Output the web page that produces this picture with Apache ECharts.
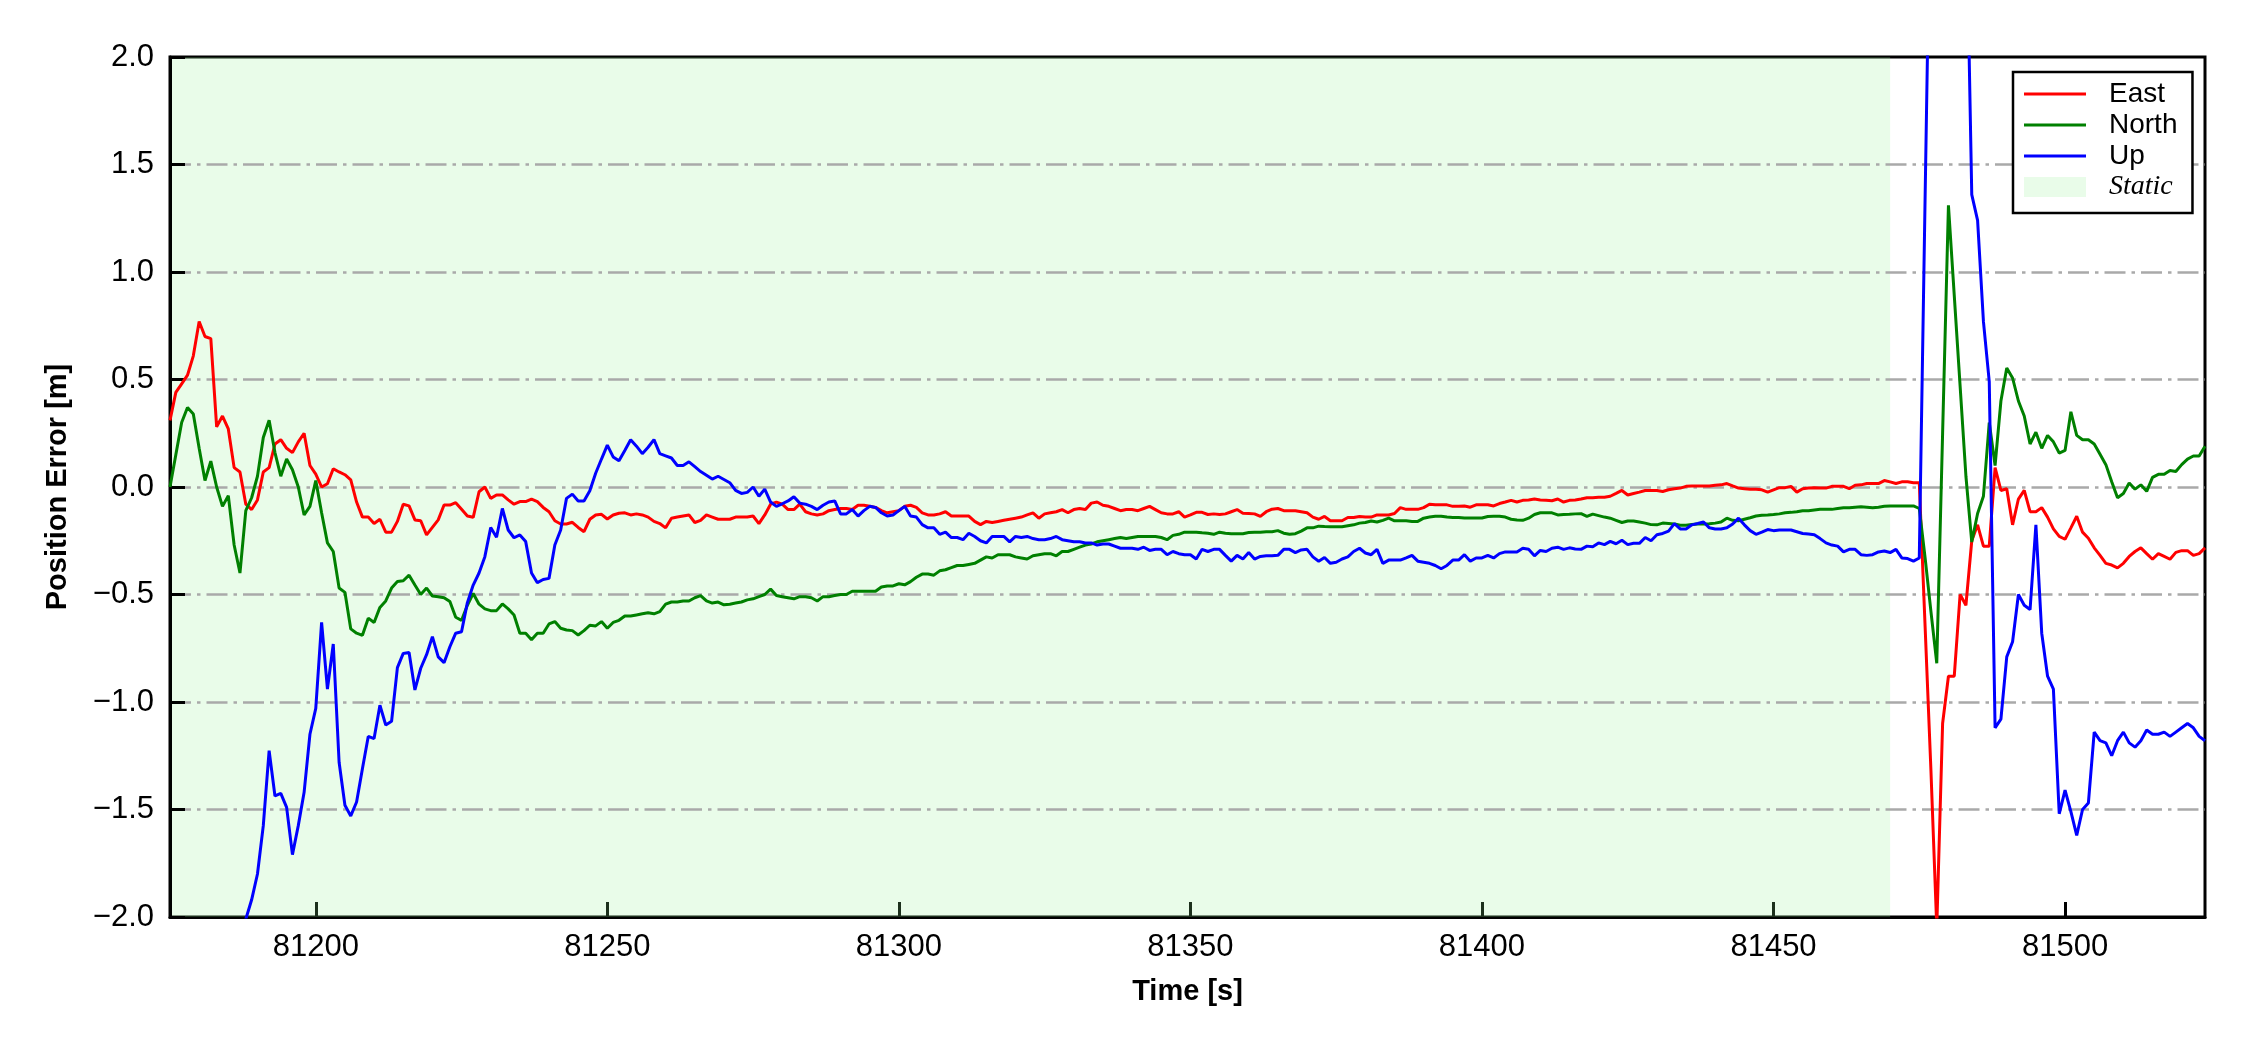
<!DOCTYPE html>
<html>
<head>
<meta charset="utf-8">
<script src="https://cdn.jsdelivr.net/npm/echarts@6/dist/echarts.min.js"></script>
<style>html,body{margin:0;padding:0;background:#fff;}#chart{width:2250px;height:1050px;}</style>
</head>
<body>
<div id="chart"></div>
<script>
// ---- data (1 Hz samples, t = 81175 ... 81524) ----
const T_START = 81175;
const T_STEP = 1;
const STATIC_END = 81470;
const xTicks = [81200, 81250, 81300, 81350, 81400, 81450, 81500];
const yTicks = [-2.0, -1.5, -1.0, -0.5, 0.0, 0.5, 1.0, 1.5, 2.0];

const east = [
0.31,0.44,0.48,0.52,0.61,0.77,0.70,0.69,0.28,0.33,
0.27,0.09,0.07,-0.08,-0.105,-0.06,0.07,0.09,0.20,0.22,
0.18,0.16,0.21,0.25,0.10,0.06,0.0,0.015,0.085,0.07,
0.057,0.033,-0.07,-0.14,-0.14,-0.17,-0.15,-0.21,-0.21,-0.16,
-0.08,-0.088,-0.153,-0.157,-0.223,-0.188,-0.153,-0.084,-0.084,-0.073,
-0.104,-0.135,-0.141,-0.022,0.0,-0.053,-0.037,-0.037,-0.06,-0.08,
-0.068,-0.068,-0.056,-0.068,-0.095,-0.115,-0.157,-0.172,-0.172,-0.164,
-0.188,-0.208,-0.15,-0.13,-0.127,-0.149,-0.13,-0.122,-0.12,
-0.13,-0.125,-0.13,-0.14,-0.16,-0.17,-0.19,-0.145,-0.14,-0.135,
-0.13,-0.165,-0.155,-0.13,-0.14,-0.15,-0.15,-0.15,-0.14,-0.14,
-0.14,-0.135,-0.17,-0.13,-0.08,-0.07,
-0.08,-0.105,-0.105,-0.08,-0.115,-0.125,-0.13,-0.125,-0.11,-0.105,
-0.10,-0.10,-0.105,-0.085,-0.085,-0.09,-0.095,-0.11,-0.12,-0.115,
-0.11,-0.09,-0.085,-0.095,-0.12,-0.13,-0.13,-0.125,-0.115,-0.135,
-0.135,-0.135,-0.135,-0.16,-0.175,-0.16,-0.165,-0.16,-0.155,-0.15,
-0.145,-0.14,-0.13,-0.12,-0.145,-0.125,-0.12,-0.115,-0.105,-0.12,
-0.105,-0.10,-0.105,-0.075,-0.07,-0.085,-0.09,-0.10,-0.11,-0.105,
-0.105,-0.11,-0.10,-0.09,-0.105,-0.12,-0.125,-0.125,-0.115,
-0.14,-0.13,-0.118,-0.118,-0.128,-0.125,-0.128,-0.125,-0.115,-0.105,
-0.122,-0.123,-0.125,-0.137,-0.115,-0.103,-0.10,-0.11,-0.11,-0.11,
-0.115,-0.12,-0.14,-0.15,-0.137,-0.157,-0.157,-0.157,-0.142,-0.142,
-0.137,-0.14,-0.14,-0.13,-0.13,-0.13,-0.123,-0.096,-0.104,-0.104,
-0.104,-0.096,-0.08,-0.083,-0.083,-0.083,-0.09,-0.09,-0.088,-0.094,
-0.083,-0.083,-0.083,-0.088,-0.077,-0.07,-0.062,-0.07,-0.062,-0.06,
-0.056,-0.06,-0.062,-0.064,-0.056,
-0.07,-0.062,-0.06,-0.056,-0.05,-0.05,-0.048,-0.048,-0.043,-0.03,
-0.016,-0.037,-0.03,-0.024,-0.016,-0.016,-0.016,-0.021,-0.013,-0.008,
-0.005,0.003,0.005,0.005,0.005,0.005,0.008,0.01,0.016,0.005,
-0.005,-0.008,-0.011,-0.011,-0.013,-0.024,-0.013,-0.003,-0.003,0.003,
-0.024,-0.008,-0.005,-0.003,-0.005,-0.005,0.003,0.003,0.003,-0.008,
0.008,0.01,0.016,0.016,0.016,0.03,0.024,0.016,0.024,0.024,
0.02,0.02,
-0.65,-1.32,-2.05,-1.10,-0.88,-0.88,-0.50,-0.55,-0.25,-0.176,
-0.275,-0.275,0.09,-0.016,-0.008,-0.176,-0.056,-0.016,-0.115,-0.115,
-0.096,-0.14,-0.195,-0.23,-0.243,-0.19,-0.136,-0.21,-0.238,-0.283,
-0.318,-0.355,-0.363,-0.376,-0.355,-0.323,-0.30,-0.283,-0.31,-0.336,
-0.31,-0.323,-0.336,-0.304,-0.296,-0.296,-0.318,-0.31,-0.283
];

const north = [
0.0,0.15,0.30,0.37,0.34,0.18,0.03,0.12,0.0,-0.09,
-0.04,-0.27,-0.40,-0.11,-0.05,0.05,0.23,0.31,0.16,0.05,
0.13,0.08,0.0,-0.13,-0.09,0.03,-0.12,-0.26,-0.30,-0.47,
-0.49,-0.66,-0.68,-0.69,-0.61,-0.63,-0.56,-0.53,-0.47,-0.44,
-0.436,-0.41,-0.456,-0.50,-0.47,-0.507,-0.51,-0.515,-0.533,-0.606,
-0.62,-0.55,-0.495,-0.545,-0.567,-0.575,-0.575,-0.544,-0.567,-0.595,
-0.68,-0.68,-0.71,-0.68,-0.68,-0.637,-0.626,-0.657,-0.665,-0.668,
-0.688,-0.668,-0.643,-0.646,-0.626,-0.657,-0.63,-0.62,-0.60,
-0.60,-0.595,-0.59,-0.585,-0.59,-0.58,-0.545,-0.535,-0.535,-0.53,
-0.53,-0.515,-0.505,-0.53,-0.54,-0.535,-0.548,-0.545,-0.54,-0.535,
-0.525,-0.52,-0.51,-0.50,-0.475,-0.505,
-0.51,-0.515,-0.52,-0.51,-0.51,-0.515,-0.53,-0.51,-0.51,-0.505,
-0.50,-0.50,-0.485,-0.485,-0.485,-0.485,-0.485,-0.465,-0.46,-0.46,
-0.45,-0.455,-0.44,-0.42,-0.405,-0.405,-0.41,-0.39,-0.385,-0.375,
-0.365,-0.365,-0.36,-0.355,-0.34,-0.325,-0.33,-0.315,-0.315,-0.315,
-0.325,-0.33,-0.335,-0.32,-0.315,-0.31,-0.31,-0.32,-0.30,-0.30,
-0.29,-0.28,-0.27,-0.265,-0.255,-0.25,-0.245,-0.24,-0.235,-0.24,
-0.235,-0.23,-0.23,-0.23,-0.23,-0.235,-0.245,-0.225,-0.22,
-0.21,-0.21,-0.21,-0.213,-0.215,-0.22,-0.21,-0.215,-0.217,-0.217,
-0.217,-0.212,-0.21,-0.21,-0.208,-0.208,-0.203,-0.215,-0.22,-0.217,
-0.205,-0.19,-0.19,-0.182,-0.184,-0.185,-0.185,-0.185,-0.18,-0.176,
-0.168,-0.165,-0.158,-0.163,-0.155,-0.145,-0.157,-0.157,-0.157,-0.16,
-0.16,-0.145,-0.14,-0.136,-0.136,-0.14,-0.142,-0.142,-0.144,-0.144,
-0.144,-0.144,-0.137,-0.136,-0.136,-0.14,-0.15,-0.153,-0.155,-0.145,
-0.128,-0.12,-0.12,-0.12,-0.13,
-0.128,-0.127,-0.125,-0.124,-0.137,-0.126,-0.133,-0.14,-0.145,-0.155,
-0.165,-0.158,-0.158,-0.163,-0.168,-0.175,-0.176,-0.168,-0.17,-0.172,
-0.178,-0.178,-0.174,-0.172,-0.172,-0.171,-0.168,-0.163,-0.145,-0.155,
-0.157,-0.15,-0.143,-0.135,-0.131,-0.13,-0.128,-0.125,-0.12,-0.118,
-0.115,-0.11,-0.11,-0.107,-0.104,-0.104,-0.104,-0.10,-0.097,-0.097,
-0.094,-0.092,-0.094,-0.096,-0.094,-0.09,-0.088,-0.088,-0.088,-0.088,
-0.088,-0.10,
-0.33,-0.58,-0.82,0.25,1.31,0.89,0.47,0.05,-0.256,-0.123,
-0.043,0.30,0.10,0.40,0.553,0.507,0.40,0.33,0.20,0.255,
0.18,0.24,0.21,0.158,0.17,0.35,0.24,0.22,0.22,0.20,
0.152,0.104,0.024,-0.05,-0.03,0.019,-0.01,0.01,-0.02,0.045,
0.059,0.059,0.077,0.072,0.104,0.13,0.144,0.144,0.19
];

const up = [
null,null,null,null,null,null,null,null,null,null,
null,null,-2.2,-2.01,-1.92,-1.80,-1.575,-1.226,-1.437,-1.425,
-1.49,-1.71,-1.575,-1.42,-1.15,-1.03,-0.63,-0.94,-0.73,-1.28,
-1.48,-1.53,-1.465,-1.31,-1.16,-1.17,-1.015,-1.107,-1.09,-0.84,
-0.774,-0.77,-0.944,-0.843,-0.78,-0.696,-0.79,-0.817,-0.743,-0.68,
-0.673,-0.538,-0.456,-0.40,-0.324,-0.188,-0.234,-0.10,-0.20,-0.236,
-0.223,-0.254,-0.40,-0.445,-0.43,-0.425,-0.27,-0.20,-0.053,-0.033,
-0.065,-0.065,-0.017,0.064,0.13,0.195,0.14,0.122,0.17,
0.22,0.19,0.155,0.185,0.22,0.155,0.145,0.135,0.10,0.10,
0.117,0.095,0.072,0.055,0.037,0.05,0.035,0.02,-0.016,-0.03,
-0.025,0.0,-0.043,-0.01,-0.07,-0.09,
-0.078,-0.065,-0.045,-0.075,-0.08,-0.09,-0.105,-0.085,-0.07,-0.065,
-0.125,-0.125,-0.105,-0.135,-0.11,-0.09,-0.095,-0.12,-0.135,-0.13,
-0.11,-0.09,-0.135,-0.14,-0.175,-0.19,-0.19,-0.22,-0.21,-0.235,
-0.235,-0.245,-0.215,-0.23,-0.25,-0.26,-0.23,-0.23,-0.23,-0.255,
-0.23,-0.235,-0.23,-0.24,-0.245,-0.245,-0.24,-0.23,-0.245,-0.25,
-0.255,-0.255,-0.26,-0.26,-0.27,-0.265,-0.265,-0.275,-0.285,-0.285,
-0.285,-0.29,-0.28,-0.295,-0.29,-0.29,-0.315,-0.30,-0.31,
-0.315,-0.315,-0.335,-0.29,-0.30,-0.29,-0.29,-0.318,-0.345,-0.318,
-0.335,-0.305,-0.335,-0.323,-0.32,-0.32,-0.318,-0.29,-0.29,-0.305,
-0.293,-0.29,-0.325,-0.345,-0.328,-0.355,-0.35,-0.335,-0.325,-0.30,
-0.285,-0.307,-0.315,-0.29,-0.355,-0.34,-0.34,-0.34,-0.33,-0.318,
-0.345,-0.35,-0.355,-0.365,-0.38,-0.365,-0.34,-0.34,-0.315,-0.345,
-0.33,-0.33,-0.318,-0.33,-0.31,-0.302,-0.302,-0.302,-0.285,-0.29,
-0.32,-0.295,-0.30,-0.285,-0.28,
-0.29,-0.283,-0.288,-0.29,-0.275,-0.278,-0.26,-0.268,-0.253,-0.264,
-0.248,-0.268,-0.262,-0.262,-0.235,-0.25,-0.222,-0.216,-0.205,-0.17,
-0.195,-0.195,-0.176,-0.17,-0.163,-0.19,-0.195,-0.195,-0.19,-0.172,
-0.145,-0.176,-0.203,-0.22,-0.21,-0.198,-0.203,-0.2,-0.2,-0.2,
-0.208,-0.216,-0.219,-0.222,-0.24,-0.26,-0.27,-0.275,-0.302,-0.29,
-0.29,-0.315,-0.318,-0.315,-0.302,-0.298,-0.305,-0.29,-0.33,-0.333,
-0.345,-0.33,
1.35,3.0,3.6,3.9,3.7,3.4,3.1,2.8,1.36,1.24,
0.77,0.49,-1.12,-1.08,-0.79,-0.72,-0.50,-0.55,-0.57,-0.176,
-0.68,-0.88,-0.94,-1.52,-1.41,-1.51,-1.62,-1.50,-1.47,-1.14,
-1.18,-1.19,-1.25,-1.18,-1.14,-1.19,-1.21,-1.18,-1.13,-1.15,
-1.15,-1.14,-1.16,-1.14,-1.12,-1.10,-1.12,-1.16,-1.18
];

const seriesNames = ['East', 'North', 'Up'];
const seriesColors = ['#ff0000', '#008000', '#0000ff'];
const staticName = 'Static';
const staticColor = 'rgba(144,238,144,0.2)';

// ---- build ----
const times = east.map((_, i) => T_START + i * T_STEP);
const pair = arr => arr.map((v, i) => [times[i], v]);
const fontSans = '"Liberation Sans", Arial, Helvetica, sans-serif';
const fontSerif = '"Liberation Serif", "Times New Roman", serif';
const linePath = 'path://M0,0H62V3H0Z';

const chart = echarts.init(document.getElementById('chart'), null, {renderer: 'canvas'});
const option = {
  backgroundColor: '#ffffff',
  animation: false,
  grid: {left: 170, top: 57, width: 2035, height: 860, show: true, borderColor: '#000', borderWidth: 3, backgroundColor: 'transparent'},
  xAxis: {
    type: 'value', min: T_START, max: times[times.length - 1],
    name: 'Time [s]', nameLocation: 'middle', nameGap: 60,
    nameTextStyle: {fontFamily: fontSans, fontSize: 29, fontWeight: 'bold', color: '#000'},
    axisLine: {show: true, onZero: false, lineStyle: {color: '#000', width: 3}},
    axisTick: {show: true, inside: true, length: 15, customValues: xTicks, lineStyle: {color: '#000', width: 3}},
    axisLabel: {show: true, customValues: xTicks, margin: 15, fontFamily: fontSans, fontSize: 31, color: '#000', formatter: v => String(v)},
    splitLine: {show: false}
  },
  yAxis: {
    type: 'value', min: yTicks[0], max: yTicks[yTicks.length - 1], interval: 0.5, z: 1.5,
    name: 'Position Error [m]', nameLocation: 'middle', nameGap: 98, nameRotate: 90,
    nameTextStyle: {fontFamily: fontSans, fontSize: 29, fontWeight: 'bold', color: '#000'},
    axisLine: {show: true, onZero: false, lineStyle: {color: '#000', width: 3}},
    axisTick: {show: true, inside: true, length: 15, lineStyle: {color: '#000', width: 3}},
    axisLabel: {show: true, margin: 16, fontFamily: fontSans, fontSize: 31, color: '#000',
      formatter: v => v.toFixed(1).replace('-', '\u2212')},
    splitLine: {show: true, showMinLine: false, showMaxLine: false,
      lineStyle: {color: '#a9a9a9', width: 2.5, type: [21, 6, 3.5, 6]}}
  },
  legend: {
    orient: 'vertical', left: 2013, top: 72,
    padding: [8, 15, 12, 11], itemGap: 3, itemWidth: 62, itemHeight: 20,
    borderColor: '#000', borderWidth: 2.5, borderRadius: 0, backgroundColor: '#fff',
    itemStyle: {borderWidth: 0},
    textStyle: {fontFamily: fontSans, fontSize: 28, color: '#000', padding: [0, 0, 0, 18]},
    data: [
      {name: seriesNames[0], icon: linePath},
      {name: seriesNames[1], icon: linePath},
      {name: seriesNames[2], icon: linePath},
      {name: staticName, icon: 'rect', itemStyle: {color: staticColor, borderWidth: 0},
       textStyle: {fontFamily: fontSerif, fontStyle: 'italic', fontSize: 28, color: '#000', padding: [0, 0, 0, 18]}}
    ]
  },
  series: [
    {name: staticName, type: 'line', data: [], color: staticColor, silent: true,
     markArea: {silent: true, itemStyle: {color: staticColor, borderWidth: 0},
       data: [[{xAxis: T_START}, {xAxis: STATIC_END}]]}},
    ...seriesNames.map((n, k) => ({
      name: n, type: 'line', data: pair([east, north, up][k]), showSymbol: false, symbol: 'none',
      color: seriesColors[k], lineStyle: {color: seriesColors[k], width: 3}, clip: true, connectNulls: false
    }))
  ]
};
chart.setOption(option);
</script>
</body>
</html>
